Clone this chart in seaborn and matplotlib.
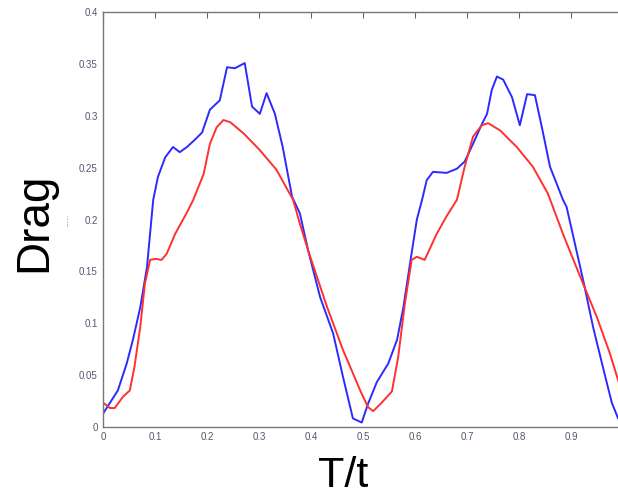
import matplotlib
matplotlib.use("Agg")
import matplotlib.pyplot as plt
import seaborn as sns
import numpy as np

# Blue series (measured drag)
blue_x = [0.0, 0.028, 0.045, 0.057, 0.071, 0.084, 0.096, 0.105, 0.119, 0.134, 0.147, 0.161,
          0.176, 0.19, 0.205, 0.224, 0.238, 0.253, 0.272, 0.286, 0.301, 0.314, 0.330, 0.345,
          0.363, 0.378, 0.394, 0.417, 0.442, 0.461, 0.48, 0.497, 0.509, 0.526, 0.548, 0.565,
          0.577, 0.590, 0.603, 0.613, 0.622, 0.634, 0.66, 0.680, 0.695, 0.711, 0.728, 0.738,
          0.747, 0.757, 0.769, 0.786, 0.801, 0.815, 0.83, 0.843, 0.859, 0.884, 0.891, 0.923,
          0.942, 0.962, 0.978, 0.99, 1.0]
blue_y = [0.013, 0.035, 0.061, 0.084, 0.115, 0.154, 0.219, 0.241, 0.26, 0.27, 0.265, 0.27,
          0.277, 0.284, 0.306, 0.315, 0.347, 0.346, 0.351, 0.309, 0.302, 0.322, 0.302, 0.27,
          0.222, 0.206, 0.17, 0.125, 0.09, 0.048, 0.008, 0.004, 0.022, 0.043, 0.061, 0.084,
          0.115, 0.158, 0.2, 0.219, 0.238, 0.246, 0.245, 0.249, 0.256, 0.273, 0.292, 0.302,
          0.325, 0.338, 0.335, 0.318, 0.291, 0.321, 0.32, 0.29, 0.251, 0.219, 0.212, 0.141,
          0.096, 0.055, 0.023, 0.008, 0.003]

# Red series (model drag)
red_x = [0.0, 0.013, 0.022, 0.038, 0.051, 0.06, 0.071, 0.08, 0.090, 0.1, 0.112, 0.122,
         0.138, 0.16, 0.173, 0.193, 0.205, 0.218, 0.231, 0.244, 0.27, 0.301, 0.333, 0.365,
         0.378, 0.394, 0.43, 0.461, 0.494, 0.509, 0.519, 0.535, 0.555, 0.567, 0.58, 0.593,
         0.603, 0.618, 0.641, 0.66, 0.68, 0.695, 0.711, 0.728, 0.74, 0.763, 0.795, 0.826,
         0.855, 0.884, 0.917, 0.949, 0.974, 0.99, 1.0]
red_y = [0.023, 0.018, 0.018, 0.029, 0.035, 0.058, 0.096, 0.138, 0.161, 0.162, 0.161, 0.167,
         0.186, 0.206, 0.219, 0.244, 0.273, 0.289, 0.296, 0.294, 0.283, 0.267, 0.248, 0.219,
         0.196, 0.17, 0.116, 0.074, 0.035, 0.019, 0.015, 0.023, 0.034, 0.067, 0.119, 0.161,
         0.164, 0.161, 0.186, 0.203, 0.219, 0.251, 0.28, 0.291, 0.293, 0.286, 0.27, 0.251,
         0.225, 0.186, 0.145, 0.106, 0.071, 0.045, 0.03]

x_ticks = [0, 0.1, 0.2, 0.3, 0.4, 0.5, 0.6, 0.7, 0.8, 0.9]
x_labels = ["0", "0.1", "0.2", "0.3", "0.4", "0.5", "0.6", "0.7", "0.8", "0.9"]
y_ticks = [0, 0.05, 0.1, 0.15, 0.2, 0.25, 0.3, 0.35, 0.4]
y_labels = ["0", "0.05", "0.1", "0.15", "0.2", "0.25", "0.3", "0.35", "0.4"]

sns.set_theme(style="white")
plt.rcParams['font.family'] = ['Liberation Sans', 'DejaVu Sans']

fig = plt.figure(figsize=(6.18, 4.95), dpi=100)
ax = fig.add_axes([103.3 / 618, 68.3 / 495, 520 / 618, 414.4 / 495])

sns.lineplot(x=blue_x, y=blue_y, ax=ax, color="#2b2bff", linewidth=1.4, sort=False)
sns.lineplot(x=red_x, y=red_y, ax=ax, color="#ff3030", linewidth=1.4, sort=False)

ax.set_xlim(0, 1)
ax.set_ylim(0, 0.4)
ax.set_xticks(x_ticks)
ax.set_xticklabels(x_labels)
ax.set_yticks(y_ticks)
ax.set_yticklabels(y_labels)
ax.tick_params(direction="in", length=4, width=0.8, color="#666666",
               labelsize=7, labelcolor="#555570", top=True, right=False, pad=4)
for s in ax.spines.values():
    s.set_color("#777777")
    s.set_linewidth(1.0)

ax.set_xlabel("")
ax.set_ylabel("")
fig.text(343 / 618, 1 - 476 / 495, "T/t", fontsize=31, ha="center", va="center", color="black")
fig.text(34 / 618, 1 - 222 / 495, "Drag", fontsize=33, rotation=90, ha="center", va="center", color="black")
fig.text(67 / 618, 1 - 220 / 495, "........", fontsize=4, rotation=90, ha="center", va="center", color="#333388")

fig.savefig("out.png", dpi=100)
